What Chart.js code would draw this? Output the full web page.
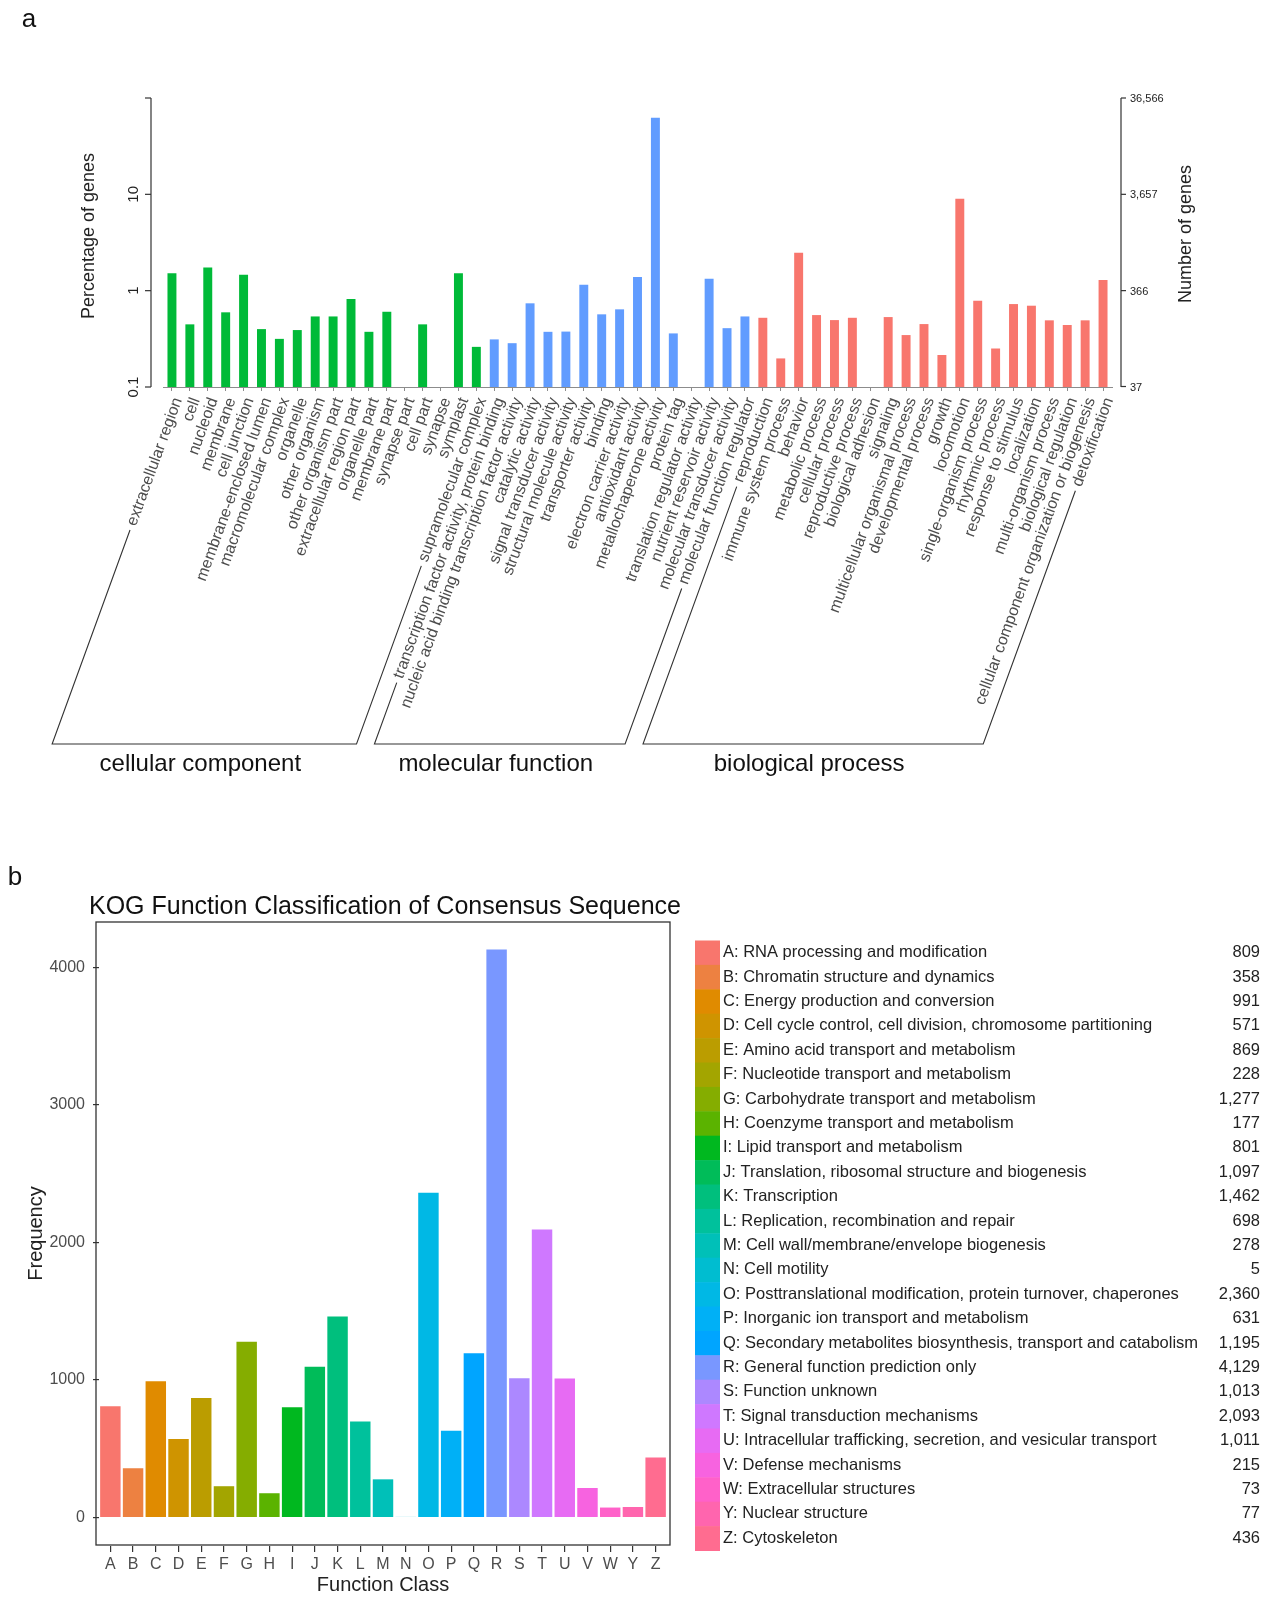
<!DOCTYPE html>
<html>
<head>
<meta charset="utf-8">
<script src="https://cdn.jsdelivr.net/npm/chart.js@4.4.1/dist/chart.umd.min.js"></script>
<style>
html, body { margin: 0; padding: 0; background: #fff; }
#wrap { position: relative; width: 1278px; height: 1605px; }
canvas { position: absolute; left: 0; }
#goChart { top: 0; }
#kogChart { top: 800px; }
</style>
</head>
<body>
<div id="wrap">
  <canvas id="goChart" width="1278" height="800"></canvas>
  <canvas id="kogChart" width="1278" height="805"></canvas>
</div>
<script>
// ---- panel a : GO classification ----
const goTerms = [
  'extracellular region', 'cell', 'nucleoid', 'membrane', 'cell junction',
  'membrane-enclosed lumen', 'macromolecular complex', 'organelle', 'other organism',
  'other organism part', 'extracellular region part', 'organelle part', 'membrane part',
  'synapse part', 'cell part', 'synapse', 'symplast', 'supramolecular complex',
  'transcription factor activity, protein binding', 'nucleic acid binding transcription factor activity',
  'catalytic activity', 'signal transducer activity', 'structural molecule activity',
  'transporter activity', 'binding', 'electron carrier activity', 'antioxidant activity',
  'metallochaperone activity', 'protein tag', 'translation regulator activity',
  'nutrient reservoir activity', 'molecular transducer activity', 'molecular function regulator',
  'reproduction', 'immune system process', 'behavior', 'metabolic process', 'cellular process',
  'reproductive process', 'biological adhesion', 'signaling', 'multicellular organismal process',
  'developmental process', 'growth', 'locomotion', 'single-organism process', 'rhythmic process',
  'response to stimulus', 'localization', 'multi-organism process', 'biological regulation',
  'cellular component organization or biogenesis', 'detoxification'
];
const goPercent = [
  1.52, 0.447, 1.74, 0.596, 1.46, 0.399, 0.316, 0.39, 0.54, 0.54, 0.819, 0.374, 0.604, null, 0.447, null, 1.52, 0.261,
  0.312, 0.285, 0.739, 0.374, 0.376, 1.155, 0.568, 0.64, 1.39, 62.5, 0.36, null, 1.33, 0.408, 0.54,
  0.523, 0.198, 2.47, 0.558, 0.495, 0.523, null, 0.532, 0.346, 0.45, 0.215, 9.02, 0.787, 0.251, 0.726, 0.698, 0.492, 0.44, 0.492, 1.29
];
const goGroups = ['cellular component', 'molecular function', 'biological process'];
const goGroupSizes = [18, 15, 20];
const goLeftTicks = [0.1, 1, 10, 100];
const goLeftLabels = ['0.1', '1', '10', ''];
const goRightTicks = [37, 366, 3657, 36566];
const totalGenes = 36566;

// ---- panel b : KOG classification ----
const kogLetters = ['A','B','C','D','E','F','G','H','I','J','K','L','M','N','O','P','Q','R','S','T','U','V','W','Y','Z'];
const kogNames = [
  'RNA processing and modification', 'Chromatin structure and dynamics', 'Energy production and conversion',
  'Cell cycle control, cell division, chromosome partitioning', 'Amino acid transport and metabolism',
  'Nucleotide transport and metabolism', 'Carbohydrate transport and metabolism', 'Coenzyme transport and metabolism',
  'Lipid transport and metabolism', 'Translation, ribosomal structure and biogenesis', 'Transcription',
  'Replication, recombination and repair', 'Cell wall/membrane/envelope biogenesis', 'Cell motility',
  'Posttranslational modification, protein turnover, chaperones', 'Inorganic ion transport and metabolism',
  'Secondary metabolites biosynthesis, transport and catabolism', 'General function prediction only',
  'Function unknown', 'Signal transduction mechanisms', 'Intracellular trafficking, secretion, and vesicular transport',
  'Defense mechanisms', 'Extracellular structures', 'Nuclear structure', 'Cytoskeleton'
];
const kogCounts = [809, 358, 991, 571, 869, 228, 1277, 177, 801, 1097, 1462, 698, 278, 5, 2360, 631, 1195, 4129, 1013, 2093, 1011, 215, 73, 77, 436];
const kogYTicks = [0, 1000, 2000, 3000, 4000];

const FONT = '"Liberation Sans", Arial, Helvetica, sans-serif';
Chart.defaults.font.family = FONT;

// ggplot-style hue colours
function hcl(h, c, l) {
  const hr = h * Math.PI / 180;
  const u = c * Math.cos(hr), v = c * Math.sin(hr);
  const Xn = 95.047, Yn = 100, Zn = 108.883;
  const un = 4 * Xn / (Xn + 15 * Yn + 3 * Zn), vn = 9 * Yn / (Xn + 15 * Yn + 3 * Zn);
  const Y = Yn * Math.pow((l + 16) / 116, 3);
  const up = u / (13 * l) + un, vp = v / (13 * l) + vn;
  const X = 9 * Y * up / (4 * vp);
  const Z = -X / 3 - 5 * Y + 3 * Y / vp;
  const lin = [3.240479 * X - 1.537150 * Y - 0.498535 * Z,
               -0.969256 * X + 1.875992 * Y + 0.041556 * Z,
               0.055648 * X - 0.204043 * Y + 1.057311 * Z].map(t => t / 100);
  const g = t => {
    t = t <= 0.0031308 ? 12.92 * t : 1.055 * Math.pow(t, 1 / 2.4) - 0.055;
    return Math.round(Math.min(1, Math.max(0, t)) * 255);
  };
  return 'rgb(' + lin.map(g).join(',') + ')';
}
const kogColours = kogLetters.map((_, i) => hcl(15 + 360 * i / kogLetters.length, 100, 65));
const groupColours = ['#00BA38', '#619CFF', '#F8766D'];
const goColours = goGroupSizes.flatMap((n, g) => Array(n).fill(groupColours[g]));

function line(ctx, x1, y1, x2, y2) {
  ctx.beginPath(); ctx.moveTo(x1, y1); ctx.lineTo(x2, y2); ctx.stroke();
}

const goDecor = {
  id: 'goDecor',
  afterDraw(chart) {
    const { ctx, chartArea: ca, scales: { x, y } } = chart;
    ctx.save();
    ctx.strokeStyle = '#333';
    ctx.fillStyle = '#222';
    ctx.lineWidth = 1.2;

    // left axis
    const lx = ca.left - 12;
    line(ctx, lx, y.getPixelForValue(100), lx, y.getPixelForValue(0.1));
    ctx.font = '15px ' + FONT;
    ctx.textAlign = 'center';
    ctx.textBaseline = 'middle';
    goLeftTicks.forEach((v, i) => {
      const py = y.getPixelForValue(v);
      line(ctx, lx - 6, py, lx, py);
      ctx.save();
      ctx.translate(lx - 17, py);
      ctx.rotate(-Math.PI / 2);
      ctx.fillText(goLeftLabels[i], 0, 0);
      ctx.restore();
    });
    ctx.font = '18px ' + FONT;
    ctx.save();
    ctx.translate(89, 236);
    ctx.rotate(-Math.PI / 2);
    ctx.fillText('Percentage of genes', 0, 0);
    ctx.restore();

    // right axis
    const rx = ca.right + 9;
    line(ctx, rx, y.getPixelForValue(100), rx, y.getPixelForValue(0.1));
    ctx.font = '11px ' + FONT;
    ctx.textAlign = 'left';
    goRightTicks.forEach(v => {
      const py = y.getPixelForValue(100 * v / totalGenes);
      line(ctx, rx, py, rx + 5, py);
      ctx.fillText(v.toLocaleString('en-US'), rx + 9, py + 1);
    });
    ctx.font = '18px ' + FONT;
    ctx.textAlign = 'center';
    ctx.save();
    ctx.translate(1186, 234);
    ctx.rotate(-Math.PI / 2);
    ctx.fillText('Number of genes', 0, 0);
    ctx.restore();

    // group brackets
    const items = x.getLabelItems();
    const baseY = 744;
    const foot = i => {
      const it = items[i];
      const [tx, ty] = it.options.translation;
      const r = it.options.rotation;
      ctx.font = it.font.string;
      const w = ctx.measureText(it.label).width;
      const c = Math.cos(r), s = Math.sin(r), o = it.textOffset;
      const sx = tx - w * c - o * s + 5 * -c;
      const sy = ty - w * s + o * c + 5 * -s;
      const t = (baseY - sy) / -s;
      return { sx, sy, ex: sx + t * -c, ey: baseY };
    };
    ctx.strokeStyle = '#333';
    ctx.lineWidth = 1.1;
    let start = 0;
    goGroupSizes.forEach((n, g) => {
      const a = foot(start), b = foot(start + n - 1);
      ctx.beginPath();
      ctx.moveTo(a.sx, a.sy);
      ctx.lineTo(a.ex, a.ey);
      ctx.lineTo(b.ex, b.ey);
      ctx.lineTo(b.sx, b.sy);
      ctx.stroke();
      ctx.font = '24px ' + FONT;
      ctx.fillStyle = '#111';
      ctx.textAlign = 'center';
      ctx.textBaseline = 'middle';
      ctx.fillText(goGroups[g], (a.ex + b.ex) / 2 - 4, 764);
      start += n;
    });

    ctx.font = '26px ' + FONT;
    ctx.fillStyle = '#111';
    ctx.fillText('a', 29, 20);
    ctx.restore();
  }
};

new Chart(document.getElementById('goChart'), {
  type: 'bar',
  data: {
    labels: goTerms,
    datasets: [{ data: goPercent, backgroundColor: goColours, borderWidth: 0, barPercentage: 0.5, categoryPercentage: 1 }]
  },
  options: {
    responsive: false,
    animation: false,
    layout: { padding: { left: 163, right: 166, top: 98, bottom: 0 } },
    plugins: { legend: { display: false }, tooltip: { enabled: false } },
    scales: {
      x: {
        grid: { display: true, drawOnChartArea: false, offset: false, tickLength: 4, color: '#8c8c8c' },
        border: { display: true, color: '#8c8c8c' },
        ticks: { autoSkip: false, minRotation: 70, maxRotation: 70, labelOffset: 6, padding: 4, color: '#4d4d4d', font: { size: 16 } },
        afterFit(s) { s.height = 413; }
      },
      y: { type: 'logarithmic', min: 0.1, max: 100, display: false }
    }
  },
  plugins: [goDecor]
});

const kogDecor = {
  id: 'kogDecor',
  afterDraw(chart) {
    const { ctx, chartArea: ca } = chart;
    ctx.save();
    ctx.strokeStyle = '#333';
    ctx.lineWidth = 1.3;
    ctx.strokeRect(ca.left - 3, ca.top + 1, ca.width + 6, ca.height - 2);

    ctx.fillStyle = '#111';
    ctx.textBaseline = 'middle';
    ctx.textAlign = 'left';
    ctx.font = '25px ' + FONT;
    ctx.fillText('KOG Function Classification of Consensus Sequence', 89, 107);
    ctx.font = '26px ' + FONT;
    ctx.textAlign = 'center';
    ctx.fillText('b', 15, 78);

    // legend
    const rowH = 24.4, top = 140.5;
    ctx.font = '16.5px ' + FONT;
    kogLetters.forEach((k, i) => {
      const y0 = top + i * rowH;
      ctx.fillStyle = kogColours[i];
      ctx.fillRect(695, y0, 25, rowH + 0.5);
      ctx.fillStyle = '#222';
      ctx.textAlign = 'left';
      ctx.fillText(k + ': ' + kogNames[i], 723, y0 + rowH / 2);
      ctx.textAlign = 'right';
      ctx.fillText(kogCounts[i].toLocaleString('en-US'), 1260, y0 + rowH / 2);
    });
    ctx.restore();
  }
};

new Chart(document.getElementById('kogChart'), {
  type: 'bar',
  data: {
    labels: kogLetters,
    datasets: [{ data: kogCounts, backgroundColor: kogColours, borderWidth: 0, barPercentage: 0.9, categoryPercentage: 1 }]
  },
  options: {
    responsive: false,
    animation: false,
    layout: { padding: { left: 0, right: 611, top: 121, bottom: 0 } },
    plugins: { legend: { display: false }, tooltip: { enabled: false } },
    scales: {
      x: {
        grid: { display: true, drawOnChartArea: false, offset: false, tickLength: 6, color: '#333', lineWidth: 1.2 },
        border: { display: false },
        ticks: { autoSkip: false, maxRotation: 0, padding: 3, color: '#4d4d4d', font: { size: 16 } },
        title: { display: true, text: 'Function Class', color: '#222', font: { size: 20 }, padding: { top: 0, bottom: 8 } },
        afterFit(s) { s.height = 59; }
      },
      y: {
        min: -206.45,
        max: 4335.45,
        afterBuildTicks(s) { s.ticks = kogYTicks.map(v => ({ value: v })); },
        grid: { drawOnChartArea: false, tickLength: 6, color: '#333', lineWidth: 1.2 },
        border: { display: false },
        ticks: { color: '#4d4d4d', font: { size: 16 }, padding: 8, callback: v => String(v) },
        title: { display: true, text: 'Frequency', color: '#222', font: { size: 20 }, padding: { top: 24, bottom: 0 } },
        afterFit(s) { s.width = 99; }
      }
    }
  },
  plugins: [kogDecor]
});
</script>
</body>
</html>
